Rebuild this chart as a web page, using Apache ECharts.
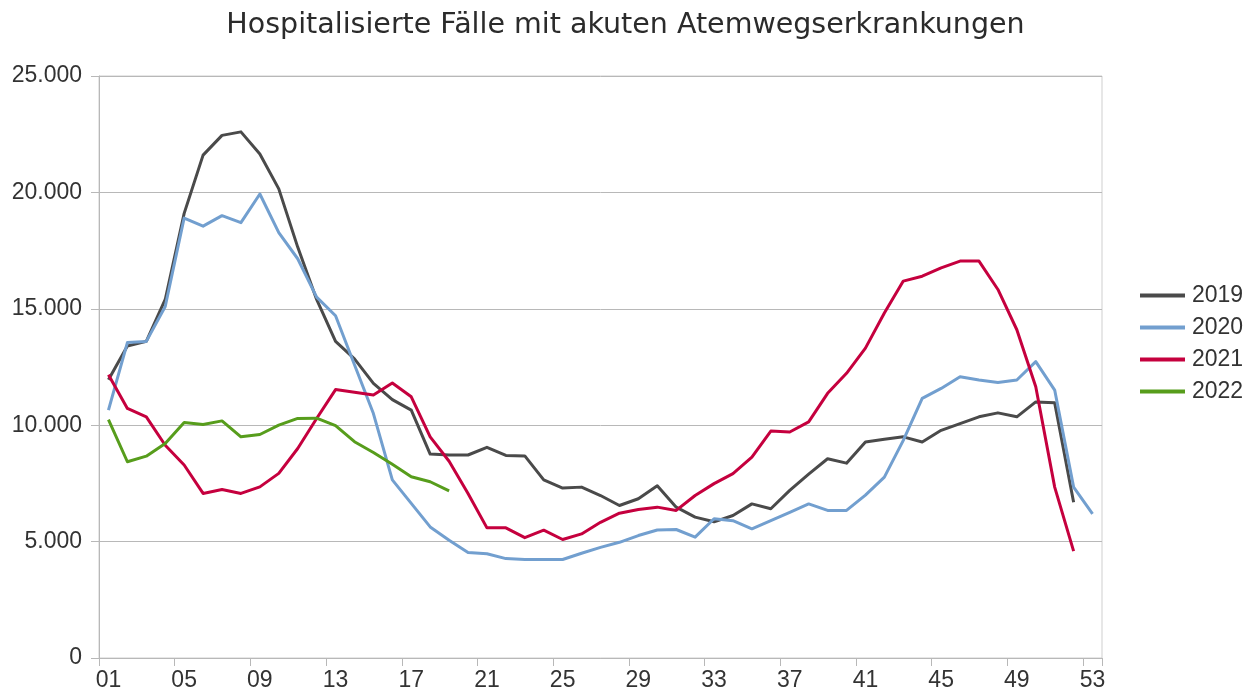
<!DOCTYPE html>
<html>
<head>
<meta charset="utf-8">
<script src="https://cdn.jsdelivr.net/npm/echarts@6/dist/echarts.min.js"></script>
<style>
html,body{margin:0;padding:0;background:#fff;}
#chart{width:1251px;height:694px;}
</style>
</head>
<body>
<div id="chart"></div>
<script>
const weeks = ['01','02','03','04','05','06','07','08','09','10','11','12','13','14','15','16','17','18','19','20','21','22','23','24','25','26','27','28','29','30','31','32','33','34','35','36','37','38','39','40','41','42','43','44','45','46','47','48','49','50','51','52','53'];

const y2019 = [11950,13400,13600,15400,19100,21600,22450,22600,21650,20150,17650,15400,13600,12850,11800,11100,10650,8760,8720,8720,9050,8700,8680,7650,7300,7340,6980,6550,6840,7400,6480,6050,5850,6120,6620,6410,7200,7900,8560,8370,9280,9400,9500,9280,9780,10070,10360,10530,10360,11000,10960,6690,null];

const y2020 = [10650,13550,13600,15100,18900,18550,19000,18700,19930,18270,17150,15500,14700,12600,10500,7650,6640,5630,5060,4530,4480,4270,4230,4230,4230,4500,4750,4970,5260,5500,5520,5190,5980,5900,5550,5900,6260,6620,6340,6340,7000,7770,9350,11150,11580,12080,11940,11830,11940,12730,11510,7340,6190];

const y2021 = [12170,10720,10360,9140,8290,7070,7240,7070,7350,7930,9000,10290,11530,11420,11300,11810,11220,9500,8450,7070,5590,5590,5170,5490,5090,5330,5830,6220,6380,6480,6340,6980,7490,7920,8630,9750,9710,10140,11370,12230,13310,14820,16190,16400,16760,17050,17050,15830,14100,11650,7340,4590,null];

const y2022 = [10240,8430,8670,9215,10115,10030,10185,9500,9600,10000,10290,10300,9980,9290,8830,8320,7785,7570,7175];

const seriesNames = ['2019','2020','2021','2022'];
const seriesColors = ['#4a4a4a','#729fcf','#c5003e','#579d1c'];
const seriesData = [y2019, y2020, y2021, y2022];

const chart = echarts.init(document.getElementById('chart'));
const FONT = 'Liberation Sans';
const TXT = '#333333';
const GRID = '#b8b8b8';

chart.setOption({
  animation: false,
  backgroundColor: '#ffffff',
  title: {
    text: 'Hospitalisierte Fälle mit akuten Atemwegserkrankungen',
    left: 'center',
    top: 6,
    textStyle: { fontFamily: 'DejaVu Sans', fontSize: 28.5, fontWeight: 'normal', color: '#2b2b2b' }
  },
  legend: {
    orient: 'vertical',
    left: 1140,
    top: 284,
    padding: 0,
    itemGap: 9,
    itemWidth: 45,
    itemHeight: 4,
    icon: 'rect',
    data: seriesNames,
    textStyle: { fontFamily: FONT, fontSize: 23, color: TXT, lineHeight: 22, padding: [0, 0, 0, 2] }
  },
  grid: {
    left: 99,
    right: 149,
    top: 76,
    bottom: 36,
    show: true,
    borderColor: '#cfcfcf',
    borderWidth: 1
  },
  xAxis: {
    type: 'category',
    data: weeks,
    boundaryGap: true,
    axisLine: { lineStyle: { color: GRID, width: 1 } },
    axisTick: { show: true, interval: 3, length: 8, lineStyle: { color: GRID } },
    axisLabel: { interval: 3, margin: 11, fontFamily: FONT, fontSize: 23, color: TXT },
    splitLine: { show: false }
  },
  yAxis: {
    type: 'value',
    min: 0,
    max: 25000,
    interval: 5000,
    axisLine: { show: true, lineStyle: { color: GRID, width: 1 } },
    axisTick: { show: true, length: 8, lineStyle: { color: GRID } },
    axisLabel: {
      margin: 17,
      fontFamily: FONT,
      fontSize: 23,
      color: TXT,
      formatter: v => v === 0 ? '0' : String(v).replace(/\B(?=(\d{3})+(?!\d))/g, '.')
    },
    splitLine: { show: true, lineStyle: { color: GRID, width: 1 } }
  },
  series: seriesNames.map((n, i) => ({
    name: n,
    type: 'line',
    data: seriesData[i],
    symbol: 'none',
    color: seriesColors[i],
    lineStyle: { width: 3, color: seriesColors[i], join: 'round' },
    itemStyle: { color: seriesColors[i] }
  }))
});
</script>
</body>
</html>
